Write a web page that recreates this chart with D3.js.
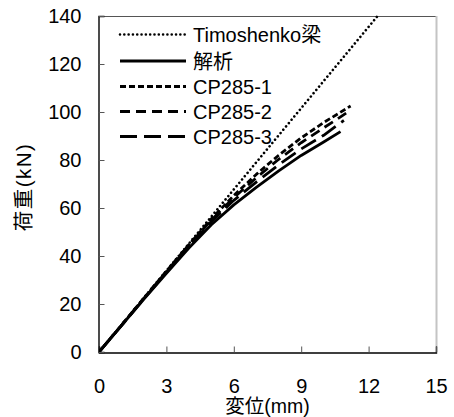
<!DOCTYPE html>
<html>
<head>
<meta charset="utf-8">
<script src="https://cdn.jsdelivr.net/npm/d3@7/dist/d3.min.js"></script>
<style>
  html, body { margin: 0; padding: 0; background: #fff; }
  svg { display: block; }
  text { font-family: "Liberation Sans", "Noto Sans CJK JP", sans-serif; fill: #000; }
</style>
</head>
<body>
<svg id="chart" width="454" height="417"></svg>
<script>
// Load–displacement data (displacement in mm, load in kN)
const timoshenkoX = [0, 12.4];
const timoshenkoY = [0, 140];

const analysisX = [0, 1, 2, 3, 4, 5, 6, 7, 8, 9, 10, 10.75];
const analysisY = [0, 11, 22, 32.8, 43.3, 53, 61.3, 68.6, 75.5, 81.9, 87.5, 91.8];

const cp1X = [0, 1, 2, 3, 4, 5, 6, 7, 8, 9, 10, 11.2];
const cp1Y = [0, 11.2, 22.5, 33.7, 44.7, 55.5, 65.2, 74, 82, 89.2, 95.6, 102.5];

const cp2X = [0, 1, 2, 3, 4, 5, 6, 7, 8, 9, 10, 11.0];
const cp2Y = [0, 11.1, 22.4, 33.5, 44.4, 55, 64.3, 72.6, 80.3, 87.2, 93.4, 99.5];

const cp3X = [0, 1, 2, 3, 4, 5, 6, 7, 8, 9, 10, 10.9];
const cp3Y = [0, 11, 22.2, 33.2, 44, 54.3, 63.2, 70.8, 78, 84.6, 90.3, 96.5];

const xTicks = [0, 3, 6, 9, 12, 15];
const yTicks = [0, 20, 40, 60, 80, 100, 120, 140];

const seriesNames = ["Timoshenko梁", "解析", "CP285-1", "CP285-2", "CP285-3"];

const xLabel = "変位(mm)";
const yLabel = "荷重(kN)";

// Layout
const plot = { left: 99, right: 436, top: 16, bottom: 352 };
const svg = d3.select("#chart");

const x = d3.scaleLinear().domain([0, 15]).range([plot.left, plot.right]);
const y = d3.scaleLinear().domain([0, 140]).range([plot.bottom, plot.top]);

// Line styles per series
const styles = [
  { width: 2.6, dash: "0.01,4.3", cap: "round" },
  { width: 2.8, dash: null, cap: "butt" },
  { width: 2.8, dash: "6,3", cap: "butt" },
  { width: 2.8, dash: "10,6", cap: "butt" },
  { width: 2.8, dash: "17,7", cap: "butt" }
];

const series = [
  [timoshenkoX, timoshenkoY],
  [analysisX, analysisY],
  [cp1X, cp1Y],
  [cp2X, cp2Y],
  [cp3X, cp3Y]
].map(([xs, ys]) => xs.map((v, i) => [v, ys[i]]));

// Frame: top and right borders
svg.append("line")
  .attr("x1", plot.left).attr("x2", plot.right)
  .attr("y1", plot.top + 0.5).attr("y2", plot.top + 0.5)
  .attr("stroke", "#555").attr("stroke-width", 1);
svg.append("line")
  .attr("x1", plot.right + 0.5).attr("x2", plot.right + 0.5)
  .attr("y1", plot.top).attr("y2", plot.bottom)
  .attr("stroke", "#c4c4c4").attr("stroke-width", 2);

// Axes
const xAxis = d3.axisBottom(x).tickValues(xTicks).tickSize(-6).tickPadding(26).tickFormat(d3.format("d"));
const yAxis = d3.axisLeft(y).tickValues(yTicks).tickSize(-6).tickPadding(17).tickFormat(d3.format("d"));

const gx = svg.append("g").attr("transform", `translate(0,${plot.bottom + 0.5})`).call(xAxis);
const gy = svg.append("g").attr("transform", `translate(${plot.left - 0.5},0)`).call(yAxis);

[gx, gy].forEach(g => {
  g.select(".domain").attr("stroke", "#000").attr("stroke-width", 1.4);
  g.selectAll(".tick line").attr("stroke", "#555").attr("stroke-width", 1);
  g.selectAll(".tick text").attr("font-size", 20).attr("font-family", null).attr("fill", "#000");
});

// Curves
svg.append("clipPath").attr("id", "plot-clip")
  .append("rect")
  .attr("x", plot.left).attr("y", plot.top - 2)
  .attr("width", plot.right - plot.left).attr("height", plot.bottom - plot.top + 2);

const line = d3.line().x(d => x(d[0])).y(d => y(d[1]));

svg.append("g").attr("clip-path", "url(#plot-clip)")
  .selectAll("path")
  .data(series)
  .join("path")
  .attr("d", line)
  .attr("fill", "none")
  .attr("stroke", "#000")
  .attr("stroke-width", (d, i) => styles[i].width)
  .attr("stroke-dasharray", (d, i) => styles[i].dash)
  .attr("stroke-linecap", (d, i) => styles[i].cap)
  .attr("stroke-linejoin", "round");

// Legend
const legendRows = [34.5, 61, 86.5, 111.5, 136.5];
const legend = svg.append("g");
seriesNames.forEach((name, i) => {
  const ry = legendRows[i];
  legend.append("line")
    .attr("x1", 120).attr("x2", 186)
    .attr("y1", ry).attr("y2", ry)
    .attr("stroke", "#000")
    .attr("stroke-width", styles[i].width)
    .attr("stroke-dasharray", styles[i].dash)
    .attr("stroke-linecap", styles[i].cap);
  legend.append("text")
    .attr("x", 193).attr("y", ry + 7.5)
    .attr("font-size", 20)
    .text(name);
});

// Axis titles
svg.append("text")
  .attr("x", (plot.left + plot.right) / 2).attr("y", 413)
  .attr("text-anchor", "middle")
  .attr("font-size", 19.5)
  .text(xLabel);

svg.append("text")
  .attr("transform", `translate(24,187) rotate(-90)`)
  .attr("text-anchor", "middle")
  .attr("dy", "0.35em")
  .attr("font-size", 20.5)
  .attr("letter-spacing", 1.5)
  .text(yLabel);
</script>
</body>
</html>
